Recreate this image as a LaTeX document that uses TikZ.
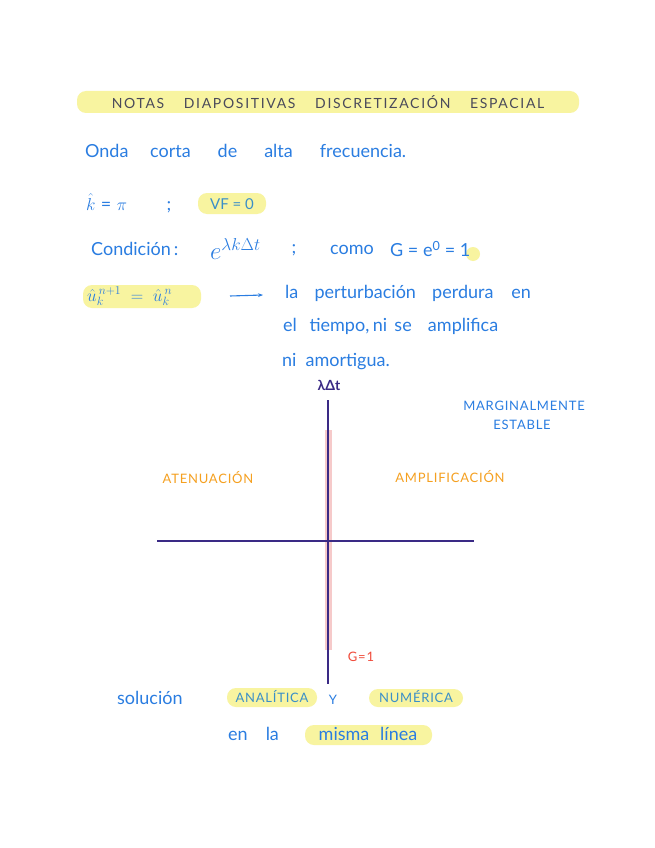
\documentclass[tikz,border=0pt]{standalone}
\usepackage{fontspec}
\setmainfont{Lato}
\usetikzlibrary{arrows.meta}
\definecolor{pen}{HTML}{2A7DE1}
\definecolor{penteal}{HTML}{3A8FC8}
\definecolor{hl}{HTML}{F8F4A0}
\definecolor{axiscol}{HTML}{3A2A85}
\definecolor{titlecol}{HTML}{4A4A5A}
\definecolor{orangepen}{HTML}{F5A020}
\definecolor{redpen}{HTML}{F04A3A}
\definecolor{pinkhl}{HTML}{F6CACA}
\tikzset{
  hand/.style={font=\fontsize{18}{20}\selectfont, text=pen, inner sep=0pt},
  caps/.style={font=\fontsize{13}{15}\selectfont\addfontfeature{LetterSpace=6}, inner sep=0pt},
  hlbox/.style={fill=hl, rounded corners=9pt, draw=none},
}
\begin{document}
\begin{tikzpicture}[x=1pt,y=-1pt]
\useasboundingbox[fill=white] (0,0) rectangle (655,848);

% title
\fill[hlbox] (77,91) rectangle (579,113);
\node[caps, text=titlecol, font=\fontsize{14}{16}\selectfont\addfontfeature{LetterSpace=12}] (title) at (328,102) {NOTAS\hspace{1.4em}DIAPOSITIVAS\hspace{1.4em}DISCRETIZACIÓN\hspace{1.4em}ESPACIAL};

% line 1
\node[hand, anchor=west] (onda) at (85,151) {Onda\hspace{1.2em}corta\hspace{1.5em}de\hspace{1.5em}alta\hspace{1.5em}frecuencia.};

% line 2
\node[hand, anchor=west] (khat) at (86,203) {$\hat{k}$\hspace{0.3em}=\hspace{0.3em}$\pi$\hspace{2.2em};};
\fill[hlbox] (198,193) rectangle (266,214);
\node[hand, text=penteal, font=\fontsize{15}{17}\selectfont] (vf) at (232,204) {VF = 0};

% line 3
\node[hand, anchor=west] (cond) at (91,249) {Condición\,:};
\node[hand, anchor=west] (expo) at (210,249) {\fontsize{24}{26}\selectfont $e^{\lambda k\Delta t}$};
\node[hand] (semi) at (294,250) {;};
\node[hand, anchor=west] (como) at (330,250) {como};
\fill[hl] (473,254) circle (7);
\node[hand, anchor=west] (geq) at (390,249) {G = e\textsuperscript{0} = 1};

% line 4
\fill[hlbox] (83,285) rectangle (201,308);
\node[hand, anchor=west] (ueq) at (87,296) {$\hat{u}_k^{\,n+1}\;=\;\hat{u}_k^{\,n}$};
\node[hand, anchor=west] (per1) at (285,293) {la\hspace{0.9em}perturbación\hspace{0.9em}perdura\hspace{1em}en};
\node[hand, anchor=west] (per2) at (283,326) {el\hspace{0.7em}tiempo,\hspace{0.2em}ni\hspace{0.4em}se\hspace{0.9em}amplifica};
\node[hand, anchor=west] (per3) at (282,362) {ni\hspace{0.5em}amortigua.};
\coordinate (arrs) at (230,296);
\coordinate (arre) at (263,295);
\draw[pen, line width=1.1pt, -{Stealth[length=5pt]}] (arrs) -- (arre);

% axes
\coordinate (vtop) at (328,400);
\coordinate (vbot) at (328,684);
\coordinate (hl) at (157,541);
\coordinate (hr) at (474,541);
\coordinate (ptop) at (328,430);
\coordinate (pbot) at (328,650);
\draw[pinkhl, line width=7pt] (ptop) -- (pbot);
\draw[axiscol, line width=1.1pt] (vtop) -- (vbot);
\draw[axiscol, line width=1.1pt] (hl) -- (hr);
\node[hand, text=axiscol, font=\fontsize{14}{16}\selectfont\bfseries] (ylab) at (329,385) {λΔt};

\node[caps, text=pen] (marg) at (524,406) {MARGINALMENTE};
\node[caps, text=pen] (est) at (522,425) {ESTABLE};
\node[caps, text=orangepen] (aten) at (208,478) {ATENUACIÓN};
\node[caps, text=orangepen] (ampl) at (450,477) {AMPLIFICACIÓN};
\node[caps, text=redpen] (g1) at (361,657) {G=1};

% bottom
\node[hand, anchor=west] (sol) at (117,698) {solución};
\fill[hlbox] (227,688) rectangle (317,707);
\node[caps, text=penteal] (anal) at (272,697) {ANALÍTICA};
\node[caps, text=pen] (yy) at (333,700) {Y};
\fill[hlbox] (369,689) rectangle (463,707);
\node[caps, text=penteal] (num) at (416,697) {NUMÉRICA};
\node[hand, anchor=west] (en) at (228,734) {en\hspace{1em}la};
\fill[hlbox] (305,725) rectangle (432,745);
\node[hand] (misma) at (368,734) {misma\hspace{0.6em}línea};
\end{tikzpicture}
\end{document}
